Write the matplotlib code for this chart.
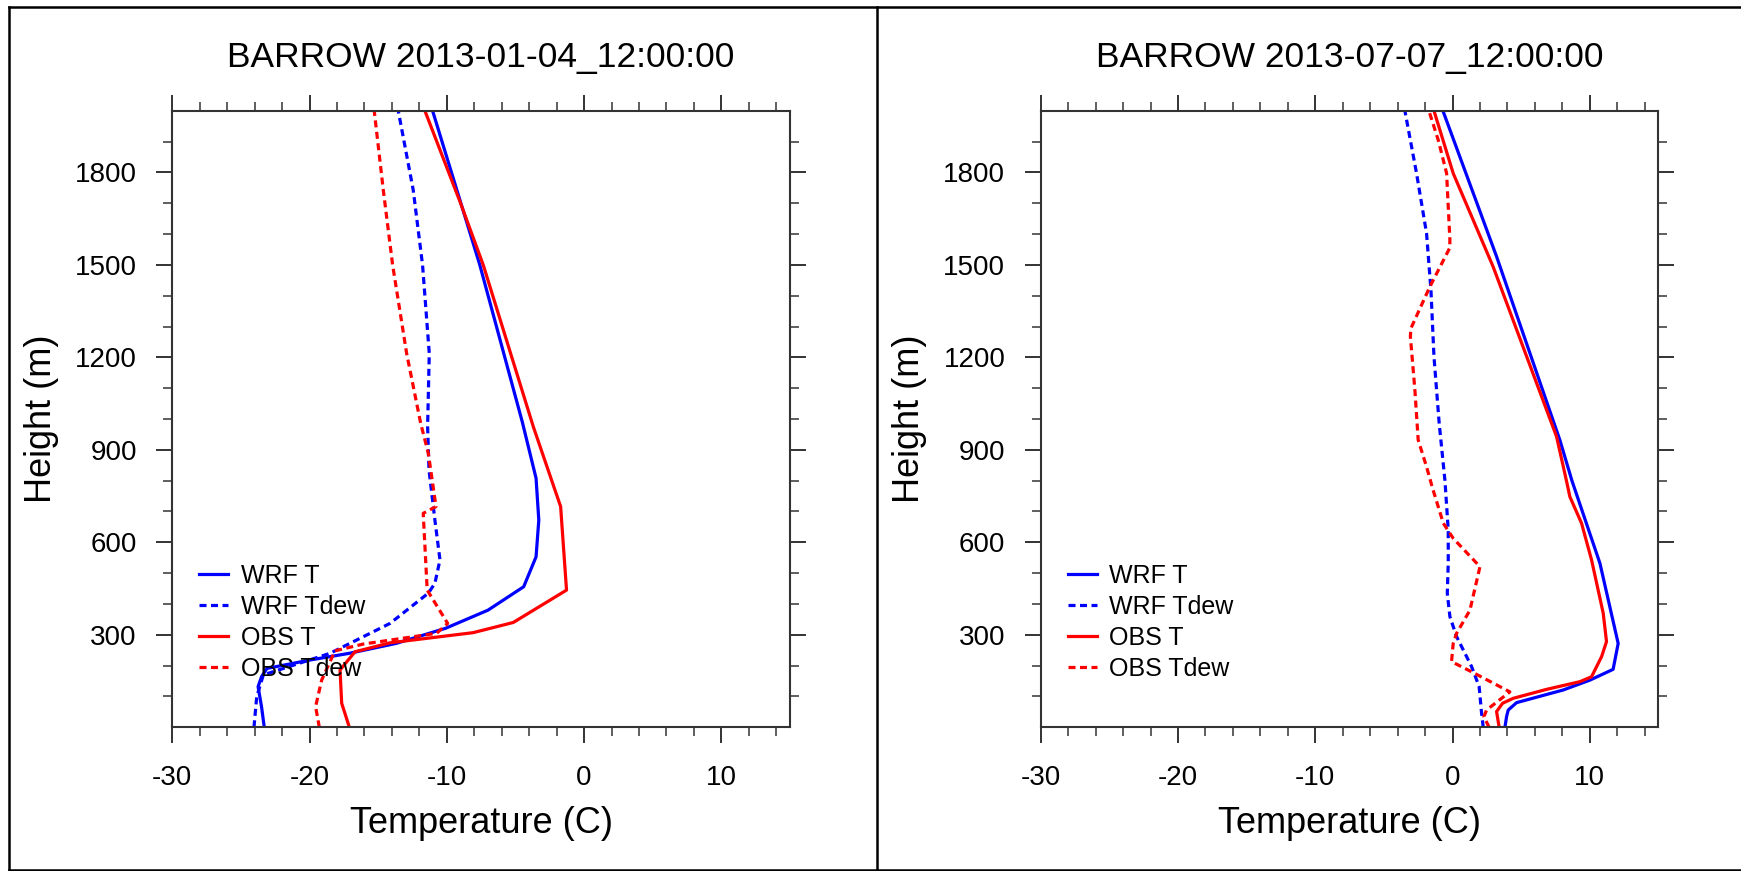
import matplotlib
matplotlib.use('Agg')
import matplotlib.pyplot as plt
from matplotlib.ticker import FixedLocator
from matplotlib.lines import Line2D

plt.rcParams['font.family'] = ['Liberation Sans', 'DejaVu Sans']

# ---------------- data ----------------
titles = ["BARROW 2013-01-04_12:00:00", "BARROW 2013-07-07_12:00:00"]
series_labels = ["WRF T", "WRF Tdew", "OBS T", "OBS Tdew"]
xlabel = "Temperature (C)"
ylabel = "Height (m)"
x_major = [-30, -20, -10, 0, 10]
y_major = [300, 600, 900, 1200, 1500, 1800]

# Panel 1: 2013-01-04
jan_wrf_t_h = [0, 67, 132, 164, 191, 218, 240, 272, 321, 380, 456, 553, 672, 808, 990, 1500, 2000]
jan_wrf_t = [-23.3, -23.5, -23.75, -23.5, -23.1, -20.0, -17.1, -13.7, -10.1, -7.0, -4.4, -3.5, -3.3, -3.5, -4.5, -7.6, -11.04]

jan_wrf_td_h = [0, 99, 170, 191, 240, 337, 435, 467, 543, 672, 835, 975, 1213, 1500, 1743, 2000]
jan_wrf_td = [-24.05, -23.85, -23.37, -21.9, -18.51, -14.14, -11.35, -10.87, -10.5, -10.87, -11.3, -11.4, -11.28, -11.77, -12.45, -13.54]

jan_obs_t_h = [0, 78, 186, 245, 274, 307, 340, 445, 716, 975, 1500, 1700, 2000]
jan_obs_t = [-17.1, -17.66, -17.78, -16.69, -14.14, -8.08, -5.16, -1.28, -1.71, -3.7, -7.35, -9.0, -11.6]

jan_obs_td_h = [0, 67, 153, 248, 270, 305, 337, 445, 694, 716, 889, 985, 1213, 1500, 1743, 2000]
jan_obs_td = [-19.29, -19.56, -19.12, -18.15, -16.09, -10.74, -9.94, -11.43, -11.72, -10.79, -11.35, -11.9, -12.93, -13.95, -14.63, -15.29]

# Panel 2: 2013-07-07
jul_wrf_t_h = [0, 35, 56, 80, 121, 153, 188, 272, 532, 800, 932, 1527, 2000]
jul_wrf_t = [3.82, 3.94, 4.06, 4.67, 8.06, 10.01, 11.7, 12.07, 10.74, 8.7, 7.82, 3.21, -0.7]

jul_wrf_td_h = [0, 45, 132, 197, 294, 359, 435, 532, 640, 800, 986, 1202, 1418, 1602, 1797, 2000]
jul_wrf_td = [2.24, 2.12, 1.94, 1.39, 0.3, -0.19, -0.38, -0.31, -0.31, -0.55, -0.97, -1.35, -1.57, -1.89, -2.62, -3.47]

jul_obs_t_h = [0, 51, 78, 94, 123, 148, 164, 229, 278, 370, 543, 662, 748, 800, 943, 1494, 1797, 2000]
jul_obs_t = [3.4, 3.21, 3.65, 4.42, 6.85, 9.28, 10.13, 10.86, 11.22, 10.98, 10.13, 9.4, 8.55, 8.3, 7.58, 2.96, 0.05, -1.35]

jul_obs_td_h = [0, 34, 56, 115, 180, 213, 272, 305, 380, 521, 613, 662, 775, 845, 932, 1094, 1268, 1294, 1429, 1555, 1581, 1797, 1905, 2000]
jul_obs_td = [2.67, 2.29, 2.48, 4.18, 1.39, -0.07, 0.05, 0.3, 1.27, 2.0, 0.05, -0.67, -1.45, -1.89, -2.5, -2.74, -3.07, -3.03, -1.65, -0.2, -0.19, -0.43, -1.04, -1.72]

panels = [
    (titles[0], [(jan_wrf_t, jan_wrf_t_h), (jan_wrf_td, jan_wrf_td_h), (jan_obs_t, jan_obs_t_h), (jan_obs_td, jan_obs_td_h)]),
    (titles[1], [(jul_wrf_t, jul_wrf_t_h), (jul_wrf_td, jul_wrf_td_h), (jul_obs_t, jul_obs_t_h), (jul_obs_td, jul_obs_td_h)]),
]

colors = ['#0000ff', '#0000ff', '#ff0000', '#ff0000']
dashed = [False, True, False, True]

# ---------------- figure ----------------
W, H = 1741, 871
fig = plt.figure(figsize=(W / 100, H / 100), dpi=100)
fig.patch.set_facecolor('white')

ax_left_px = [172.3, 1040.7]
ax_w_px = 617.7
ax_top_px = 110.7
ax_bot_px = 727.3
ax_h_px = ax_bot_px - ax_top_px

spine_col = '#333333'

for (title, series), left_px in zip(panels, ax_left_px):
    ax = fig.add_axes([left_px / W, (H - ax_bot_px) / H, ax_w_px / W, ax_h_px / H])
    for (t, h), lab, c, d in zip(series, series_labels, colors, dashed):
        if d:
            ax.plot(t, h, color=c, lw=2.3, dashes=(2.2, 1.4), label=lab)
        else:
            ax.plot(t, h, color=c, lw=2.3, label=lab)
    ax.set_xlim(-30, 15)
    ax.set_ylim(0, 2000)
    ax.xaxis.set_major_locator(FixedLocator(x_major))
    ax.xaxis.set_minor_locator(FixedLocator([v for v in range(-28, 15, 2) if v % 10 != 0]))
    ax.yaxis.set_major_locator(FixedLocator(y_major))
    ax.yaxis.set_minor_locator(FixedLocator([v for v in range(100, 2000, 100) if v % 300 != 0]))
    ax.set_xticklabels([str(v) for v in x_major])
    ax.set_yticklabels([str(v) for v in y_major])
    ax.tick_params(which='both', direction='out', top=True, right=True,
                   labeltop=False, labelright=False, color=spine_col)
    ax.tick_params(which='major', length=11.5, width=1.4, labelsize=20)
    ax.tick_params(which='minor', length=6.5, width=1.1)
    ax.tick_params(axis='x', which='major', pad=16.0)
    ax.tick_params(axis='y', which='major', pad=14.0)
    for s in ax.spines.values():
        s.set_linewidth(1.5)
        s.set_color(spine_col)

    ax.set_title(title, fontsize=25.5, y=1 + 44 / ax_h_px, pad=0)
    ax.set_xlabel(xlabel, fontsize=26)
    ax.xaxis.label.set_va('baseline')
    ax.xaxis.set_label_coords(0.5, -(832.7 - ax_bot_px) / ax_h_px)
    ax.set_ylabel(ylabel, fontsize=26)
    ax.yaxis.label.set_va('baseline')
    ax.yaxis.set_label_coords(-(172.3 - 51.0) / ax_w_px, 0.5)

    ax.legend(loc='upper left', bbox_to_anchor=((199.3 - 172.3) / ax_w_px, (ax_bot_px - 564) / ax_h_px),
              frameon=False, fontsize=18, handlelength=1.16, handletextpad=0.5,
              labelspacing=0.28, borderpad=0, borderaxespad=0)

# outer frame and divider
frame_kw = dict(color='black', lw=1.8)
x_l = 8.6 / W
y_t = 1 - 7.5 / H
y_b = 1.2 / H
fig.add_artist(Line2D([x_l, 1.0], [y_t, y_t], transform=fig.transFigure, **frame_kw))
fig.add_artist(Line2D([x_l, 1.0], [y_b, y_b], transform=fig.transFigure, **frame_kw))
fig.add_artist(Line2D([x_l, x_l], [y_b, y_t], transform=fig.transFigure, **frame_kw))
fig.add_artist(Line2D([876.5 / W, 876.5 / W], [y_b, y_t], transform=fig.transFigure, **frame_kw))

fig.savefig('out.png', dpi=100)
